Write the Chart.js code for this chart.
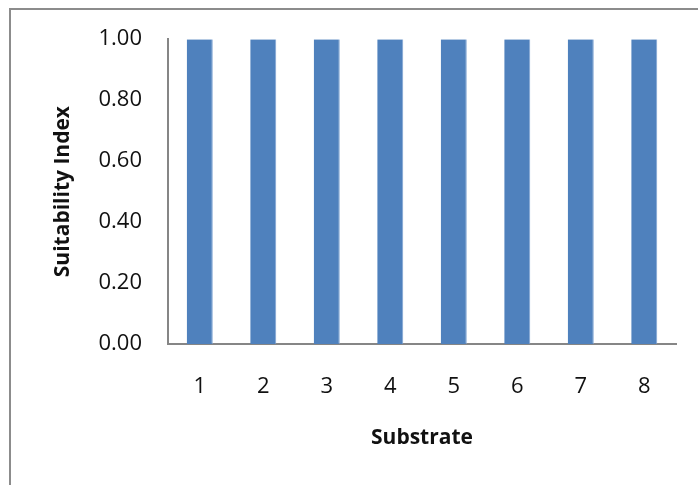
<!DOCTYPE html>
<html>
<head>
<meta charset="utf-8">
<script src="https://cdn.jsdelivr.net/npm/chart.js@4/dist/chart.umd.min.js"></script>
<style>
    html, body { margin: 0; padding: 0; background: #fff; }
    #wrap { position: relative; width: 698px; height: 485px; }
    #frame { position: absolute; left: 9px; top: 8px; right: -2px; bottom: -2px; border: 2px solid #8c8c8c; }
    canvas { position: absolute; left: 0; top: 0; }
</style>
</head>
<body>
<div id="wrap">
    <div id="frame"></div>
    <canvas id="chart" width="698" height="485"></canvas>
</div>
<script>
// chart data
const substrates = ['1', '2', '3', '4', '5', '6', '7', '8'];
const suitabilityIndex = [1.00, 1.00, 1.00, 1.00, 1.00, 1.00, 1.00, 1.00];
const yTicks = [0.00, 0.20, 0.40, 0.60, 0.80, 1.00];

const FONT = "'Open Sans', 'Liberation Sans', sans-serif";
const axisColor = '#868686';
const textColor = '#111';

new Chart(document.getElementById('chart'), {
    type: 'bar',
    data: {
        labels: substrates,
        datasets: [{
            label: 'Suitability Index',
            data: suitabilityIndex,
            backgroundColor: '#4F81BD',
            borderColor: '#7EA3D3',
            borderWidth: { right: 1, left: 0, top: 0, bottom: 0 },
            categoryPercentage: 1.0,
            barPercentage: 0.41
        }]
    },
    options: {
        responsive: false,
        animation: false,
        layout: { padding: { top: 38, right: 22, left: 0, bottom: 0 } },
        plugins: {
            legend: { display: false },
            tooltip: { enabled: false }
        },
        scales: {
            x: {
                grid: { display: false, drawTicks: false },
                border: { display: true, color: axisColor, width: 2 },
                ticks: { color: textColor, font: { family: FONT, size: 22 }, padding: 30 },
                title: {
                    display: true,
                    text: 'Substrate',
                    color: textColor,
                    font: { family: FONT, size: 21, weight: 'bold' },
                    padding: { top: 34, bottom: 34 }
                },
                afterFit: s => { s.height = 141; }
            },
            y: {
                min: 0,
                max: 1,
                grid: { display: false, drawTicks: false },
                border: { display: true, color: axisColor, width: 2 },
                afterBuildTicks: s => { s.ticks = yTicks.map(v => ({ value: v })); },
                ticks: {
                    color: textColor,
                    font: { family: FONT, size: 22 },
                    padding: 26,
                    callback: v => Number(v).toFixed(2)
                },
                title: {
                    display: true,
                    text: 'Suitability Index',
                    color: textColor,
                    font: { family: FONT, size: 21, weight: 'bold' },
                    padding: { top: 50, bottom: 50 }
                },
                afterFit: s => { s.width = 168; }
            }
        }
    }
});
</script>
</body>
</html>
